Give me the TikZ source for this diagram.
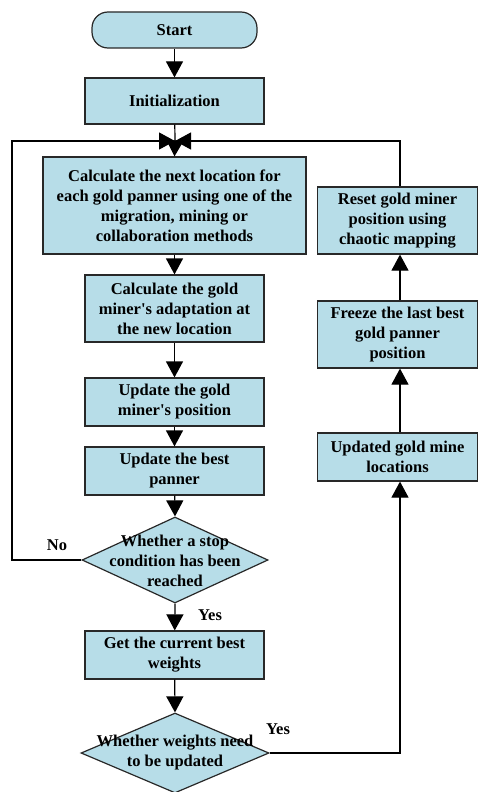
\documentclass[tikz,border=0pt]{standalone}
\usepackage{fontspec}
\setmainfont{Liberation Serif}
\usetikzlibrary{shapes.geometric,arrows.meta,calc}
\definecolor{boxfill}{RGB}{183,221,232}
\definecolor{boxline}{RGB}{40,40,40}
\newcommand{\apo}{\textquotesingle}
\tikzset{
  x=1pt,y=-1pt,
  every node/.style={font=\bfseries\fontsize{16.5}{20}\selectfont},
  box/.style={draw=boxline,line width=1.2pt,fill=boxfill,inner sep=0pt,align=center},
  startbox/.style={box,rounded corners=16pt},
  dia/.style={draw=boxline,line width=1.2pt,fill=boxfill,shape=diamond,inner sep=0pt},
  txt/.style={align=center,inner sep=0pt},
  conn/.style={draw=black,line width=1.2pt},
  arr/.style={conn,-{Triangle[length=16pt,width=17pt]}},
  lbl/.style={inner sep=0pt}
}
\begin{document}
\begin{tikzpicture}
\useasboundingbox (0,0) rectangle (479,792);
% left column
\node[startbox,minimum width=165pt,minimum height=36pt] (start) at (174.5,30) {Start};
\node[box,minimum width=179pt,minimum height=46pt] (init) at (174.5,101) {Initialization};
\node[box,minimum width=263pt,minimum height=97pt] (calc) at (174.5,205.5) {Calculate the next location for\\each gold panner using one of the\\migration, mining or\\collaboration methods};
\node[box,minimum width=179pt,minimum height=67pt] (adapt) at (174.5,308.5) {Calculate the gold\\miner\apo s adaptation at\\the new location};
\node[box,minimum width=179pt,minimum height=48pt] (upos) at (174.5,402) {Update the gold\\miner\apo s position};
\node[box,minimum width=179pt,minimum height=48pt] (ubest) at (174.5,471) {Update the best\\panner};
\node[dia,minimum width=186pt,minimum height=86pt] (d1) at (175,560) {};
\node[txt] (d1t) at (175,561) {Whether a stop\\condition has been\\reached};
\node[box,minimum width=179pt,minimum height=48pt] (getw) at (174.5,655) {Get the current best\\weights};
\node[dia,minimum width=188pt,minimum height=80pt] (d2) at (175,753) {};
\node[txt] (d2t) at (175,753) {Whether weights need\\to be updated};
% right column
\node[box,minimum width=160pt,minimum height=67pt] (reset) at (397.5,220.5) {Reset gold miner\\position using\\chaotic mapping};
\node[box,minimum width=160pt,minimum height=67pt] (freeze) at (397.5,334.5) {Freeze the last best\\gold panner\\position};
\node[box,minimum width=160pt,minimum height=48pt] (upd) at (397.5,457) {Updated gold mine\\locations};
% helper coordinates
\coordinate (m) at (175,141);
\coordinate (lx) at (12,141);
\coordinate (rx) at (400,141);
\coordinate (ly) at (12,560);
\coordinate (ry) at (400,753);
% connectors
\draw[arr] (start) -- (init);
\draw[conn] (init) -- (m);
\draw[arr] (m) -- (calc.north);
\draw[arr] (calc) -- (adapt);
\draw[arr] (adapt) -- (upos);
\draw[arr] (upos) -- (ubest);
\draw[arr] (ubest) -- (d1.north);
\draw[arr] (d1.south) -- (getw);
\draw[arr] (getw) -- (d2.north);
\draw[arr] (d1.west) -- (ly) -- (lx) -- (m);
\draw[arr] (d2.east) -- (ry) -- (upd.south -| ry);
\draw[arr] (upd.north -| ry) -- (freeze.south -| ry);
\draw[arr] (freeze.north -| ry) -- (reset.south -| ry);
\draw[arr] (reset.north -| rx) -- (rx) -- (m);
% labels
\node[lbl] (no) at (57,545) {No};
\node[lbl] (yes1) at (210,615) {Yes};
\node[lbl] (yes2) at (278,729) {Yes};
\end{tikzpicture}
\end{document}
